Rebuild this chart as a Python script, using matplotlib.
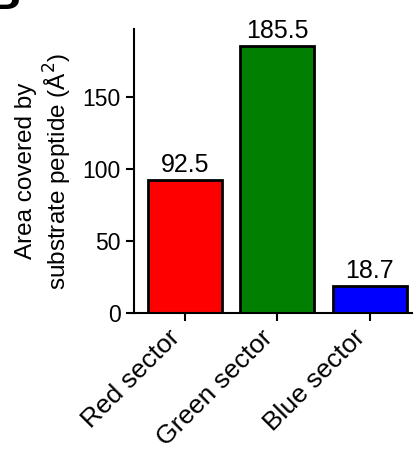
import matplotlib
matplotlib.use("Agg")
import matplotlib.pyplot as plt

# Data
sectors = ["Red sector", "Green sector", "Blue sector"]
areas = [92.5, 185.5, 18.7]
bar_colors = ["#ff0000", "#007f00", "#0000ff"]
y_ticks = [0, 50, 100, 150]

plt.rcParams['font.family'] = ['Liberation Sans', 'DejaVu Sans']

fig = plt.figure(figsize=(4.14, 4.49), dpi=100)
ax = fig.add_axes([0.3237, 0.3029, 0.6763, 0.6325])

x = range(len(sectors))
bars = ax.bar(x, areas, width=0.8, color=bar_colors, edgecolor='black', linewidth=2)

# value labels above bars
for xi, v in zip(x, areas):
    ax.text(xi, v + 2, f"{v}", ha='center', va='bottom', fontsize=18)

ax.set_xlim(-0.55, 2.48)
ax.set_ylim(0, 197)
ax.set_yticks(y_ticks)
ax.set_xticks(list(x))
ax.set_xticklabels(sectors, rotation=45, ha='right', fontsize=19)
ax.tick_params(axis='y', labelsize=16.5, length=6, width=1.5)
ax.tick_params(axis='x', length=6, width=1.5, pad=3)
ax.set_ylabel("Area covered by\nsubstrate peptide (Å$^2$)", fontsize=17.5, labelpad=6)

ax.spines['top'].set_visible(False)
ax.spines['right'].set_visible(False)
ax.spines['left'].set_linewidth(1.5)
ax.spines['bottom'].set_linewidth(1.5)

# panel letter, mostly cut off by the figure edge
fig.text(0.05, 0.98, "B", fontsize=34, fontweight='bold', ha='right', va='baseline')

fig.savefig("out.png", dpi=100)
